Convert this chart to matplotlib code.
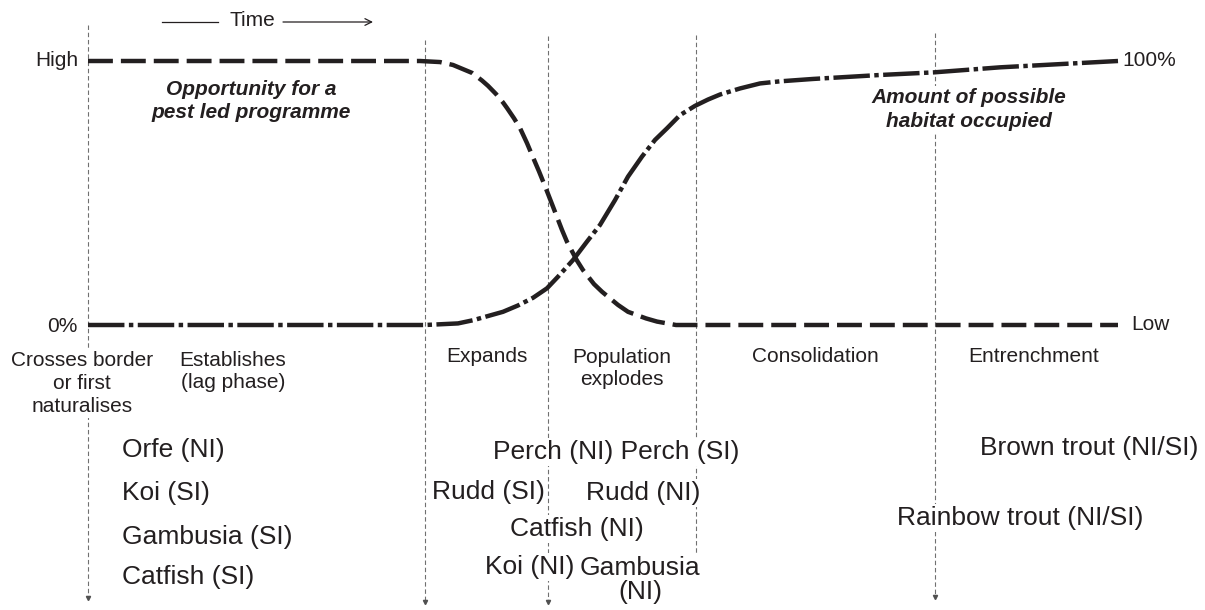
import matplotlib.pyplot as plt

plt.rcParams['font.family'] = ['Liberation Sans', 'DejaVu Sans']

# time axis in arbitrary units (stage boundaries)
stage_bounds = [88, 425, 548, 696, 935]

# "Opportunity for a pest led programme" (High -> Low), % of scale
opp_t = [88, 420, 440, 453, 472, 482, 488, 496, 503, 507, 514, 520, 527, 533, 539, 545,
         552, 562, 567, 577, 583, 594, 602, 618, 628, 646, 657, 676, 1118]
opp_v = [100, 100, 99.6, 98.5, 95.5, 92.6, 90.6, 87.5, 84.3, 82.2, 78.3, 74.6, 68.9, 63.5, 58.2, 52.6,
         45.8, 36.0, 31.5, 24.4, 20.8, 15.5, 12.6, 7.6, 5.0, 2.5, 1.3, 0, 0]

# "Amount of possible habitat occupied" (0% -> 100%)
hab_t = [88, 425, 458, 473, 488, 503, 518, 533, 547, 558, 573, 587, 600, 615, 628, 642,
         655, 667, 680, 695, 708, 720, 740, 760, 780, 813, 880, 934, 1000, 1118]
hab_v = [0, 0, 0.6, 1.8, 3.4, 5.0, 7.4, 10.3, 13.9, 18.3, 24.6, 31.6, 37.9, 47.3, 56.2, 63.8,
         70.1, 74.5, 79.5, 83.0, 85.4, 87.3, 89.6, 91.5, 92.3, 93.2, 94.7, 95.7, 97.6, 100]

stage_names = ['Crosses border\nor first\nnaturalises', 'Establishes\n(lag phase)', 'Expands',
               'Population\nexplodes', 'Consolidation', 'Entrenchment']

INK = '#231f20'


def yv(py):
    # pixel row -> percent
    return (325 - py) / 2.64


fig = plt.figure(figsize=(12.05, 6.1), dpi=100)
ax = fig.add_axes([0, 0, 1, 1])
ax.set_xlim(0, 1205)
ax.set_ylim(yv(610), yv(0))
ax.axis('off')

# stage dividers
tops = [25, 40, 36, 35, 33]
bots = [598, 602, 602, 553, 597]
heads = [True, True, True, False, True]
for x, t, b, h in zip(stage_bounds, tops, bots, heads):
    ax.plot([x, x], [yv(t), yv(b)], color='#707070', lw=0.8, dashes=(4, 2.5), zorder=1)
    if h:
        ax.plot(x, yv(b), marker='v', ms=3, color='#505050', zorder=1)

# curves
ax.plot(opp_t, opp_v, color=INK, lw=3.2, dashes=(5.6, 1.8), solid_joinstyle='round', zorder=3)
ax.plot(hab_t, hab_v, color=INK, lw=3.2, dashes=(8.2, 1.0, 1.0, 1.0), solid_joinstyle='round', zorder=3)

box = dict(facecolor='white', edgecolor='none', pad=1.5)


def txt(x, py, s, size=15, ha='left', **kw):
    ax.text(x, yv(py), s, fontsize=size, ha=ha, va='center', color=INK,
            bbox=box, zorder=4, **kw)


# time arrow
ax.plot([162, 218], [yv(22), yv(22)], color=INK, lw=0.9)
ax.annotate('', xy=(373, yv(22)), xytext=(283, yv(22)),
            arrowprops=dict(arrowstyle='->', lw=0.9, color=INK, shrinkA=0, shrinkB=0,
                            mutation_scale=12))
ax.text(252, yv(21), 'Time', fontsize=15, ha='center', va='center', color=INK)

# scale labels
txt(78, 61, 'High', ha='right')
txt(78, 326, '0%', ha='right')
txt(1122, 61, '100%')
txt(1131, 325, 'Low')

# curve labels
txt(251, 101, 'Opportunity for a\npest led programme', ha='center',
    fontweight='bold', fontstyle='italic', linespacing=1.22)
txt(969, 109.5, 'Amount of possible\nhabitat occupied', ha='center',
    fontweight='bold', fontstyle='italic', linespacing=1.32)

# stage labels
txt(82, 383.5, stage_names[0], ha='center', linespacing=1.24)
txt(233, 371.5, stage_names[1], ha='center', linespacing=1.24)
txt(487, 357, stage_names[2], ha='center')
txt(622, 368.5, stage_names[3], ha='center', linespacing=1.24)
txt(815, 357, stage_names[4], ha='center')
txt(1034, 357, stage_names[5], ha='center')

# species
S = 19
txt(122, 450, 'Orfe (NI)', size=S)
txt(122, 493, 'Koi (SI)', size=S)
txt(122, 537, 'Gambusia (SI)', size=S)
txt(122, 577, 'Catfish (SI)', size=S)

txt(493, 452, 'Perch (NI) Perch (SI)', size=S)
txt(432, 492, 'Rudd (SI)', size=S)
txt(586, 493, 'Rudd (NI)', size=S)
txt(510, 529, 'Catfish (NI)', size=S)
txt(485, 567, 'Koi (NI)', size=S)
txt(640, 580, 'Gambusia\n(NI)', size=S, ha='center', linespacing=1.0)

txt(980, 448, 'Brown trout (NI/SI)', size=S)
txt(897, 518, 'Rainbow trout (NI/SI)', size=S)

fig.savefig('out.png', dpi=100, facecolor='white')
